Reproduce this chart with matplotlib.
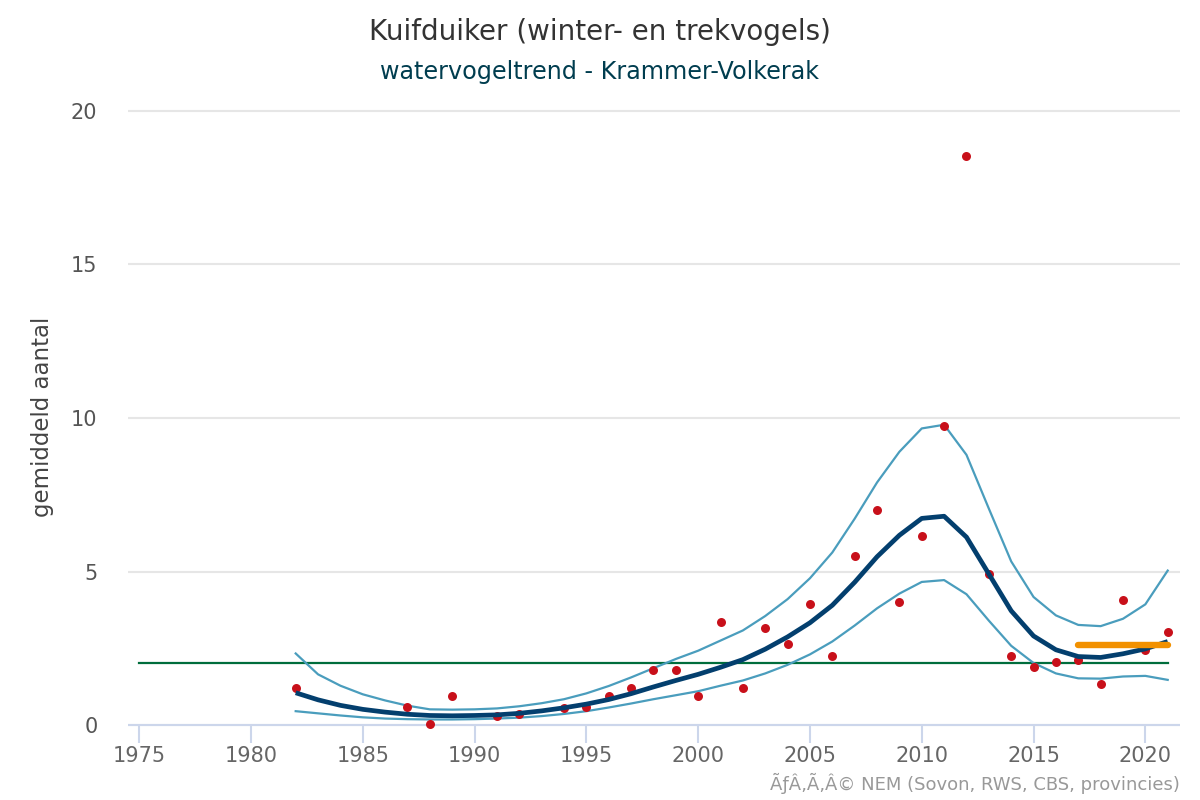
import matplotlib
matplotlib.use("Agg")
import matplotlib.pyplot as plt

plt.rcParams["font.family"] = "DejaVu Sans"

years = list(range(1982, 2022))
trend = [1.05, 0.82, 0.64, 0.51, 0.42, 0.35, 0.31, 0.30, 0.31, 0.33,
         0.38, 0.46, 0.56, 0.68, 0.83, 1.02, 1.24, 1.45, 1.65, 1.88,
         2.13, 2.47, 2.87, 3.33, 3.90, 4.65, 5.48, 6.18, 6.73, 6.80,
         6.12, 4.92, 3.72, 2.90, 2.45, 2.23, 2.20, 2.32, 2.48, 2.72]
upper = [2.33, 1.65, 1.28, 1.00, 0.80, 0.63, 0.51, 0.50, 0.51, 0.54,
         0.61, 0.71, 0.84, 1.03, 1.27, 1.55, 1.85, 2.15, 2.42, 2.75,
         3.08, 3.55, 4.10, 4.78, 5.62, 6.72, 7.90, 8.90, 9.66, 9.78,
         8.80, 7.05, 5.33, 4.17, 3.57, 3.26, 3.22, 3.46, 3.93, 5.03]
lower = [0.45, 0.38, 0.31, 0.25, 0.21, 0.19, 0.18, 0.18, 0.19, 0.21,
         0.24, 0.29, 0.36, 0.45, 0.57, 0.70, 0.84, 0.97, 1.10, 1.28,
         1.45, 1.68, 1.96, 2.30, 2.72, 3.24, 3.80, 4.28, 4.66, 4.72,
         4.26, 3.40, 2.58, 2.02, 1.68, 1.52, 1.51, 1.58, 1.60, 1.47]

point_years = [1982, 1987, 1988, 1989, 1991, 1992, 1994, 1995, 1996, 1997,
               1998, 1999, 2000, 2001, 2002, 2003, 2004, 2005, 2006, 2007,
               2008, 2009, 2010, 2011, 2012, 2013, 2014, 2015, 2016, 2017,
               2018, 2019, 2020, 2021]
points = [1.20, 0.60, 0.03, 0.95, 0.30, 0.35, 0.55, 0.60, 0.93, 1.20,
          1.78, 1.78, 0.95, 3.35, 1.20, 3.17, 2.63, 3.93, 2.25, 5.50,
          7.00, 4.00, 6.17, 9.75, 18.55, 4.92, 2.25, 1.90, 2.05, 2.12,
          1.33, 4.07, 2.45, 3.02]

goal_years = [1975, 2021]
goal = [2.03, 2.03]
recent_years = [2017, 2021]
recent = [2.6, 2.6]

x_ticks = list(range(1975, 2025, 5))
y_ticks = [0, 5, 10, 15, 20]

fig = plt.figure(figsize=(12, 8), dpi=100)
ax = fig.add_axes([128 / 1200, 1 - 725 / 800, 1052 / 1200, 614 / 800])

ax.plot(goal_years, goal, color="#006d3c", lw=1.6, zorder=2)
ax.plot(years, upper, color="#4a9dbd", lw=1.6, zorder=3)
ax.plot(years, lower, color="#4a9dbd", lw=1.6, zorder=3)
ax.scatter(point_years, points, s=42, color="#c8101a", zorder=4, clip_on=False, linewidths=0)
ax.plot(years, trend, color="#033f6e", lw=3.4, zorder=5, solid_capstyle="butt")
ax.plot(recent_years, recent, color="#f29100", lw=4.6, zorder=6, solid_capstyle="round")

ax.set_xlim(1974.5, 2021.55)
ax.set_ylim(0, 20)
ax.set_xticks(x_ticks)
ax.set_yticks(y_ticks)

ax.grid(axis="y", color="#e6e6e6", lw=1.5, clip_on=False, solid_capstyle="butt")
ax.set_axisbelow(True)
for side in ["top", "right", "left"]:
    ax.spines[side].set_visible(False)
ax.spines["bottom"].set_color("#ccd6eb")
ax.spines["bottom"].set_linewidth(1.5)
ax.spines["bottom"].set_capstyle("butt")
ax.tick_params(axis="x", color="#ccd6eb", labelcolor="#666666", length=13, width=1.5, labelsize=15, pad=2)
ax.tick_params(axis="y", length=0, labelcolor="#555555", labelsize=15, pad=22)

fig.text(0.5, 1 - 32 / 800, "Kuifduiker (winter- en trekvogels)", ha="center", va="center",
         fontsize=20, color="#333333")
fig.text(0.5, 1 - 72 / 800, "watervogeltrend - Krammer-Volkerak", ha="center", va="center",
         fontsize=17.2, color="#003d4f")
fig.text(42 / 1200, 1 - 417 / 800, "gemiddeld aantal", rotation=90, ha="center", va="center",
         fontsize=16.5, color="#444444")
fig.text(1180 / 1200, 1 - 783 / 800, "ÃƒÂ‚Ã‚Â© NEM (Sovon, RWS, CBS, provincies)", ha="right", va="center",
         fontsize=13, color="#999999")

fig.savefig("out.png", dpi=100)
